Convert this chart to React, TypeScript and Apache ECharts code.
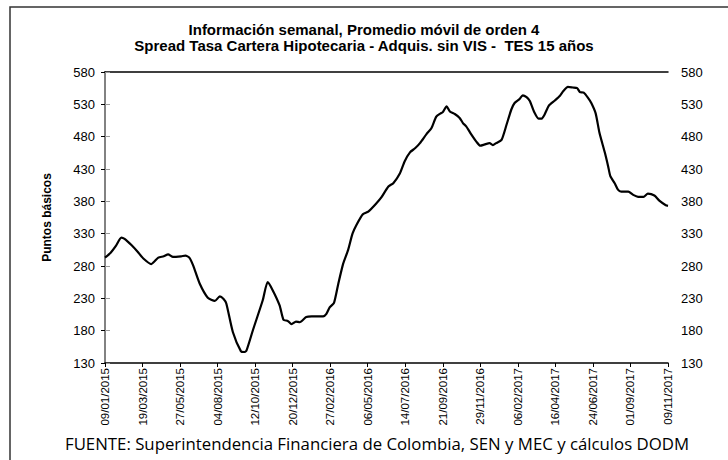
import React, { useEffect, useRef } from "react";
import * as echarts from "echarts";

// Day offset from 09/01/2015 and spread value (puntos básicos)
const days = [
  0, 10, 20, 30, 36, 49, 60, 70, 85, 98, 108, 116, 125, 140, 148, 155, 162, 174, 189, 202,
  211, 218, 223, 235, 250, 256, 260, 272, 290, 299, 308, 321, 328, 336, 343, 351, 358, 370, 380, 401,
  407, 413, 421, 429, 438, 447, 455, 462, 474, 484, 499, 508, 521, 530, 542, 551, 561, 570, 579, 591,
  600, 609, 617, 621, 628, 634, 643, 652, 658, 664, 673, 683, 690, 698, 707, 713, 719, 729, 738, 747,
  753, 762, 768, 775, 781, 789, 797, 803, 808, 816, 827, 836, 843, 851, 860, 868, 873, 880, 888, 894,
  902, 909, 919, 925, 929, 937, 943, 949, 962, 971, 980, 990, 998, 1010, 1019, 1031, 1035,
];
const spread = [
  293, 300, 311, 324, 322, 312, 302, 292, 283, 293, 295, 298, 294, 295, 296, 293, 281, 253, 231, 226,
  233, 229, 222, 178, 148, 147, 149, 181, 227, 255, 243, 219, 197, 195, 190, 194, 193, 201, 202, 202,
  206, 216, 223, 253, 284, 305, 330, 343, 360, 364, 377, 386, 403, 408, 423, 442, 456, 462, 470, 484,
  493, 511, 516, 518, 527, 519, 515, 509, 501, 496, 484, 472, 466, 468, 470, 467, 470, 475, 498, 522,
  532, 538, 544, 541, 535, 518, 508, 508, 514, 528, 536, 543, 551, 557, 556, 555, 549, 548, 540, 532,
  516, 486, 455, 434, 419, 408, 398, 395, 395, 390, 387, 387, 392, 389, 381, 374, 373,
];

const tickLabels = [
  "09/01/2015", "19/03/2015", "27/05/2015", "04/08/2015", "12/10/2015", "20/12/2015",
  "27/02/2016", "06/05/2016", "14/07/2016", "21/09/2016", "29/11/2016", "06/02/2017",
  "16/04/2017", "24/06/2017", "01/09/2017", "09/11/2017",
];
const tickDays = [0, 69, 138, 207, 276, 345, 414, 483, 552, 621, 690, 759, 828, 897, 966, 1035];
const yTicks = [130, 180, 230, 280, 330, 380, 430, 480, 530, 580];

const FONT = "'Liberation Sans', Arial, sans-serif";

export default function App() {
  const ref = useRef<HTMLDivElement>(null);
  useEffect(() => {
    if (!ref.current) return;
    const chart = echarts.init(ref.current, null, { renderer: "svg" });
    const xFmt = (v: number) => {
      const i = tickDays.indexOf(Math.round(v));
      return i >= 0 ? tickLabels[i] : "";
    };
    chart.setOption({
      animation: false,
      backgroundColor: "#fff",
      title: {
        text: "Información semanal, Promedio móvil de orden 4\nSpread Tasa Cartera Hipotecaria - Adquis. sin VIS -  TES 15 años",
        left: "center",
        top: 16,
        textStyle: { fontFamily: FONT, fontSize: 15, fontWeight: "bold", color: "#000", lineHeight: 16 },
      },
      grid: { left: 105, right: 60, top: 72, bottom: 97, containLabel: false },
      xAxis: [
        {
          type: "value",
          min: 0,
          max: 1035,
          axisLine: { lineStyle: { color: "#000", width: 1.5 } },
          axisTick: { show: true, length: 4, lineStyle: { color: "#000" }, customValues: tickDays },
          axisLabel: {
            rotate: 90,
            customValues: tickDays,
            formatter: xFmt,
            fontFamily: FONT,
            fontSize: 11.5,
            color: "#000",
            margin: 5,
          },
          splitLine: { show: false },
        },
        {
          type: "value",
          position: "top",
          min: 0,
          max: 1035,
          axisLine: { show: true, lineStyle: { color: "#000", width: 1.5 } },
          axisTick: { show: false },
          axisLabel: { show: false },
          splitLine: { show: false },
        },
      ],
      yAxis: [
        {
          type: "value",
          min: 130,
          max: 580,
          name: "Puntos básicos",
          nameLocation: "middle",
          nameGap: 52,
          nameTextStyle: { fontFamily: FONT, fontSize: 12, fontWeight: "bold", color: "#000" },
          axisLine: { show: true, lineStyle: { color: "#000", width: 1.5 } },
          axisTick: { show: true, length: 4, lineStyle: { color: "#000" }, customValues: yTicks },
          axisLabel: { customValues: yTicks, fontFamily: FONT, fontSize: 13, color: "#000", margin: 10 },
          splitLine: { show: false },
        },
        {
          type: "value",
          position: "right",
          min: 130,
          max: 580,
          axisLine: { show: true, lineStyle: { color: "#999", width: 1.5 } },
          axisTick: { show: true, length: 5, lineStyle: { color: "#999" }, customValues: yTicks },
          axisLabel: { customValues: yTicks, fontFamily: FONT, fontSize: 13, color: "#000", margin: 13 },
          splitLine: { show: false },
        },
      ],
      graphic: [
        {
          type: "rect",
          shape: { x: 10, y: 7, width: 730, height: 470 },
          style: { fill: "none", stroke: "#333", lineWidth: 1.5 },
          silent: true,
        },
        {
          type: "text",
          x: 377,
          y: 443,
          style: {
            text: "FUENTE: Superintendencia Financiera de Colombia, SEN y MEC y cálculos DODM",
            font: "16.8px 'Open Sans', sans-serif",
            fill: "#000",
            align: "center",
            verticalAlign: "middle",
          },
        },
      ],
      series: [
        {
          type: "line",
          xAxisIndex: 0,
          yAxisIndex: 0,
          data: days.map((d, i) => [d, spread[i]]),
          showSymbol: false,
          smooth: 0.2,
          lineStyle: { color: "#000", width: 2.2 },
        },
      ],
    });
    return () => chart.dispose();
  }, []);
  return (
    <div
      ref={ref}
      style={{ position: "fixed", left: 0, top: 0, width: 728, height: 460 }}
    />
  );
}
